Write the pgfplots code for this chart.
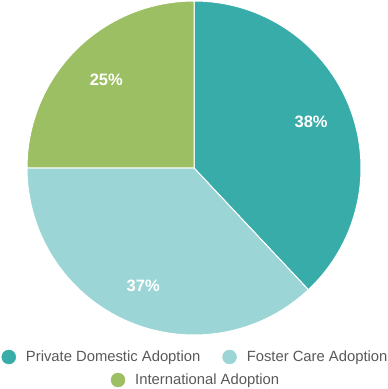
\documentclass[border=0pt]{standalone}
\usepackage{pgfplots}
\usepackage{pgfplotstable}
\pgfplotsset{compat=1.18}
\usetikzlibrary{calc}
\usepackage{fontspec}
\setmainfont{Liberation Sans}
\definecolor{cA}{RGB}{55,172,168}
\definecolor{cB}{RGB}{156,213,213}
\definecolor{cC}{RGB}{156,191,99}
\definecolor{legtext}{RGB}{89,89,89}
\pgfplotstableread{
idx value
0 38
1 37
2 25
}\piedata
\begin{document}
\begin{tikzpicture}
\pgfplotsset{
  piebase/.style={
    hide axis, scale only axis, width=388pt, height=389pt,
    xmin=0, xmax=388, ymin=0, ymax=389, clip=false,
    legend style={draw=none, fill=none, font=\fontsize{14.8}{17}\selectfont, text=legtext,
      inner sep=0pt, outer sep=0pt,
      nodes={inner sep=0pt},
      /tikz/every odd column/.append style={column sep=10pt},
      /tikz/every even column/.append style={column sep=22pt}},
    legend image code/.code={\fill[##1] (7pt,0pt) circle (7pt); \path (0pt,0pt) -- (14pt,0pt);},
  }
}
\begin{axis}[piebase,
  legend columns=2,
  legend style={at={(axis cs:194.5,32)}, anchor=center}]
\path (axis cs:0,0) rectangle (axis cs:388,389);
\pgfplotstablegetelem{0}{value}\of\piedata \let\va\pgfplotsretval
\pgfplotstablegetelem{1}{value}\of\piedata \let\vb\pgfplotsretval
\pgfplotstablegetelem{2}{value}\of\piedata \let\vc\pgfplotsretval
\pgfmathsetmacro{\aA}{90}
\pgfmathsetmacro{\aB}{90-3.6*\va}
\pgfmathsetmacro{\aC}{\aB-3.6*\vb}
\pgfmathsetmacro{\aD}{\aC-3.6*\vc}
\fill[cA, draw=white, line width=1pt] (axis cs:194,221) -- ++(\aA:167pt) arc[start angle=\aA, end angle=\aB, radius=167pt] -- cycle;
\fill[cB, draw=white, line width=1pt] (axis cs:194,221) -- ++(\aB:167pt) arc[start angle=\aB, end angle=\aC, radius=167pt] -- cycle;
\fill[cC, draw=white, line width=1pt] (axis cs:194,221) -- ++(\aC:167pt) arc[start angle=\aC, end angle=\aD, radius=167pt] -- cycle;
\pgfmathsetmacro{\mA}{(\aA+\aB)/2}
\pgfmathsetmacro{\mB}{(\aB+\aC)/2}
\pgfmathsetmacro{\mC}{(\aC+\aD)/2}
\node[text=white, font=\fontsize{16.5}{19}\bfseries\selectfont] at ($(axis cs:194,221)+(\mA:126pt)$) {\va\%};
\node[text=white, font=\fontsize{16.5}{19}\bfseries\selectfont] at ($(axis cs:194,221)+(\mB:128pt)$) {\vb\%};
\node[text=white, font=\fontsize{16.5}{19}\bfseries\selectfont] at ($(axis cs:194,221)+(\mC:124pt)$) {\vc\%};
\addlegendimage{cA}\addlegendentry{Private Domestic Adoption}
\addlegendimage{cB}\addlegendentry{Foster Care Adoption}
\end{axis}
\begin{axis}[piebase,
  legend style={at={(axis cs:195,9)}, anchor=center}]
\addlegendimage{cC}\addlegendentry{International Adoption}
\end{axis}
\end{tikzpicture}
\end{document}
